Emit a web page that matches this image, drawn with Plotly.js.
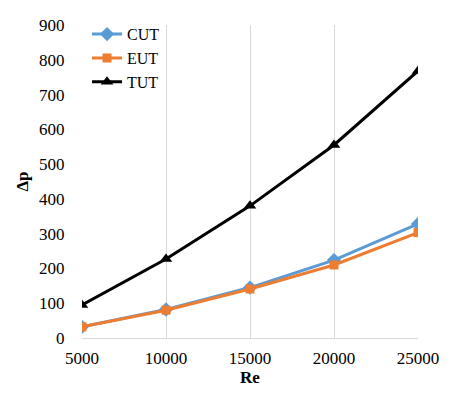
<!DOCTYPE html>
<html>
<head>
<meta charset="utf-8">
<script src="https://cdn.plot.ly/plotly-3.0.1.min.js"></script>
<style>
  body { margin: 0; background: #fff; }
  #chart { width: 455px; height: 394px; }
</style>
</head>
<body>
<div id="chart"></div>
<script>
// data
var re = [5000, 10000, 15000, 20000, 25000];
var reLabels = ["5000", "10000", "15000", "20000", "25000"];
var cut = [32, 82, 145, 224, 328];
var eut = [32, 80, 141, 210, 303];
var tut = [95, 227, 380, 555, 768];

var serif = "'Times New Roman', 'Liberation Serif', Times, serif";

var traceCut = {
  x: re, y: cut, type: "scatter", mode: "lines+markers", name: "CUT",
  line: { color: "#5B9BD5", width: 3 },
  marker: { symbol: "diamond", size: 11, color: "#5B9BD5" }
};
var traceEut = {
  x: re, y: eut, type: "scatter", mode: "lines+markers", name: "EUT",
  line: { color: "#ED7D31", width: 3 },
  marker: { symbol: "square", size: 9, color: "#ED7D31" }
};
var traceTut = {
  x: re, y: tut, type: "scatter", mode: "lines+markers", name: "TUT",
  line: { color: "#000000", width: 3 },
  marker: { symbol: "triangle-up", size: 11, color: "#000000" }
};

var data = [traceCut, traceEut, traceTut];

var layout = {
  width: 455, height: 394,
  margin: { l: 82, r: 37, t: 25, b: 56 },
  paper_bgcolor: "#fff", plot_bgcolor: "#fff",
  font: { family: serif, size: 17, color: "#000" },
  showlegend: true,
  legend: {
    x: 0.015, y: 1.025, xanchor: "left", yanchor: "top",
    bgcolor: "rgba(0,0,0,0)", font: { family: serif, size: 16 },
    itemwidth: 30, tracegroupgap: 0
  },
  xaxis: {
    range: [5000, 25000], tickvals: re, ticktext: reLabels,
    showgrid: true, gridcolor: "#d9d9d9", gridwidth: 1,
    zeroline: false, showline: true, linecolor: "#d9d9d9", linewidth: 1,
    ticks: "outside", ticklen: 5, tickcolor: "rgba(0,0,0,0)",
    tickfont: { family: serif, size: 17 },
    title: { text: "<b>Re</b>", font: { family: serif, size: 17 }, standoff: 1 }
  },
  yaxis: {
    range: [0, 900], dtick: 100,
    showgrid: false, zeroline: false, showline: false,
    ticks: "outside", ticklen: 13, tickcolor: "rgba(0,0,0,0)",
    tickfont: { family: serif, size: 17 },
    title: { text: "<b>Δp</b>", font: { family: serif, size: 17 }, standoff: 6 }
  }
};

Plotly.newPlot("chart", data, layout, { displayModeBar: false });
</script>
</body>
</html>
